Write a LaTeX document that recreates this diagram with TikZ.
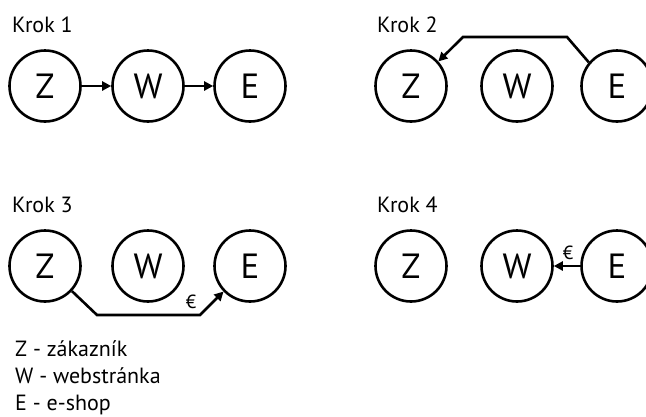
\documentclass[tikz,border=0pt]{standalone}
\usepackage{fontspec}
\setmainfont{PT Sans}
\usetikzlibrary{arrows.meta}
\tikzset{
  ent/.style={circle, draw, line width=2.6pt, minimum size=71pt, inner sep=0pt, font=\fontsize{35}{40}\selectfont},
  lbl/.style={anchor=base west, inner sep=0pt, font=\fontsize{22}{26}\selectfont},
  eur/.style={inner sep=0pt, font=\fontsize{19}{22}\selectfont},
  con/.style={line width=2.6pt, -{Triangle[length=9pt,width=9pt]}},
}
\begin{document}
\begin{tikzpicture}[x=1pt,y=-1pt]
\useasboundingbox (0,0) rectangle (646,416);
% Krok 1
\node[lbl] (k1) at (12,32) {Krok 1};
\node[ent] (z1) at (45,86) {Z};
\node[ent] (w1) at (148,86) {W};
\node[ent] (e1) at (250,86) {E};
\draw[con] (z1) -- (w1);
\draw[con] (w1) -- (e1);
% Krok 2
\node[lbl] (k2) at (377,32) {Krok 2};
\node[ent] (z2) at (411,86) {Z};
\node[ent] (w2) at (517,86) {W};
\node[ent] (e2) at (617,86) {E};
\coordinate (a2) at (567,37);
\coordinate (b2) at (463,37);
\draw[con, line join=miter] (e2.140) -- (a2) -- (b2) -- (z2.42);
% Krok 3
\node[lbl] (k3) at (12,212) {Krok 3};
\node[ent] (z3) at (45,266) {Z};
\node[ent] (w3) at (148,266) {W};
\node[ent] (e3) at (250,266) {E};
\coordinate (a3) at (97,315);
\coordinate (b3) at (200,315);
\draw[con, line join=miter] (z3.-43) -- (a3) -- (b3) -- (e3.224);
\node[eur] (eu3) at (191,302) {€};
% Krok 4
\node[lbl] (k4) at (377,212) {Krok 4};
\node[ent] (z4) at (411,266) {Z};
\node[ent] (w4) at (517,266) {W};
\node[ent] (e4) at (617,266) {E};
\draw[con] (e4) -- (w4);
\node[eur] (eu4) at (568,253) {€};
% Legend
\node[lbl] (l1) at (15,356) {Z - zákazník};
\node[lbl] (l2) at (15,383) {W - webstránka};
\node[lbl] (l3) at (15,410) {E - e-shop};
\end{tikzpicture}
\end{document}
